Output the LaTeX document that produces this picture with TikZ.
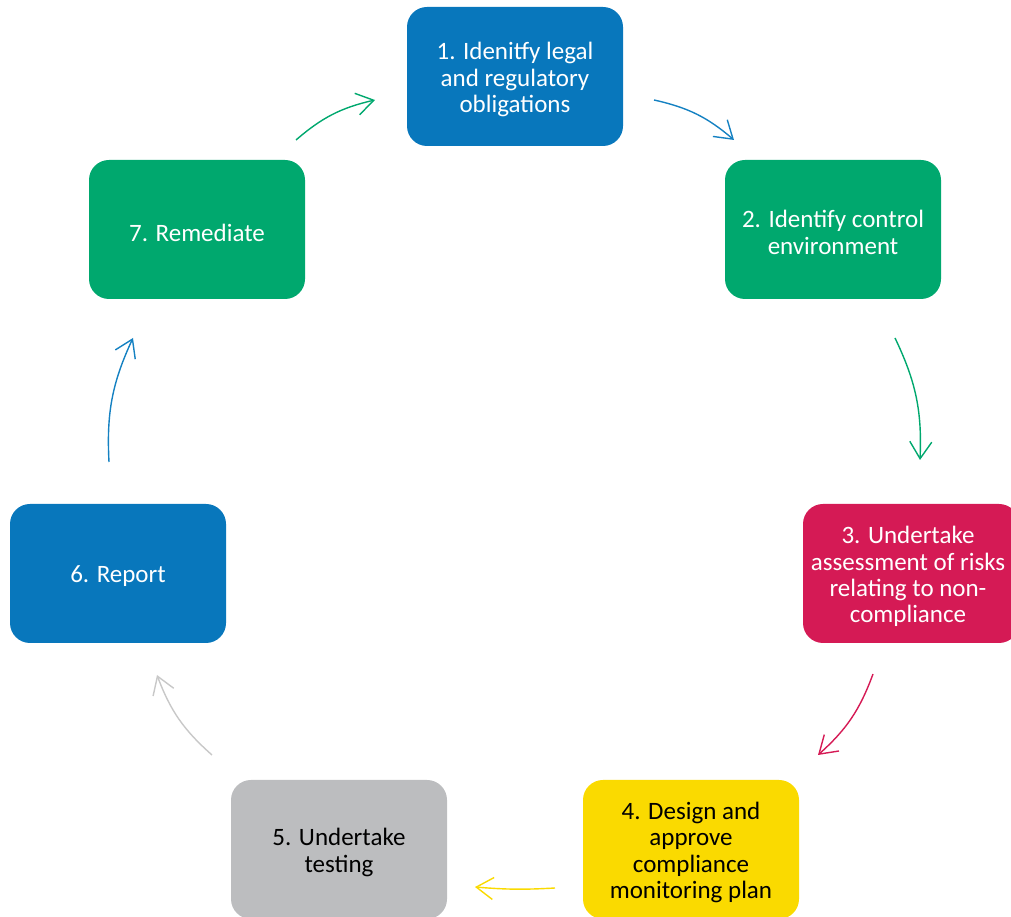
\documentclass[tikz,border=0pt]{standalone}
\usepackage{fontspec}
\setmainfont{Carlito}
\usetikzlibrary{arrows.meta}
\definecolor{cblue}{HTML}{0877BC}
\definecolor{cgreen}{HTML}{00A86E}
\definecolor{cred}{HTML}{D51A55}
\definecolor{cyellow}{HTML}{FADA00}
\definecolor{cgrey}{HTML}{BCBDBF}
\definecolor{agrey}{HTML}{C8C8C8}
\definecolor{ablue}{HTML}{1581C2}
\tikzset{
  stepbox/.style={rounded corners=20pt, minimum width=216pt, minimum height=139pt, inner sep=0pt},
  steptext/.style={align=center, inner sep=0pt, font=\fontsize{25}{26.3}\selectfont, text=white},
  cyc/.style={line width=1.4pt, -{Straight Barb[length=17pt,width=22pt,line width=1.4pt]}, bend left=14},
}
\begin{document}
\begin{tikzpicture}[x=1pt,y=1pt]
\useasboundingbox (0,0) rectangle (1011,917);
\clip (0,0) rectangle (1011,917);
\node[stepbox, fill=cblue] (s1) at (515,840.5) {};
\node[stepbox, fill=cgreen] (s2) at (833,687.5) {};
\node[stepbox, fill=cred] (s3) at (911,343.5) {};
\node[stepbox, fill=cyellow] (s4) at (691,67.5) {};
\node[stepbox, fill=cgrey] (s5) at (339,67.5) {};
\node[stepbox, fill=cblue] (s6) at (118,343.5) {};
\node[stepbox, fill=cgreen] (s7) at (197,687.5) {};
\node[steptext] (t1) at ([yshift=-3pt]s1.center) {1. Idenitfy legal\\and regulatory\\obligations};
\node[steptext] (t2) at ([yshift=-3pt]s2.center) {2. Identify control\\environment};
\node[steptext] (t3) at ([xshift=-3pt,yshift=-3pt]s3.center) {3. Undertake\\assessment of risks\\relating to non-\\compliance};
\node[steptext, text=black] (t4) at ([yshift=-3pt]s4.center) {4. Design and\\approve\\compliance\\monitoring plan};
\node[steptext, text=black] (t5) at ([yshift=-3pt]s5.center) {5. Undertake\\testing};
\node[steptext] (t6) at ([yshift=-3pt]s6.center) {6. Report};
\node[steptext] (t7) at ([yshift=-3pt]s7.center) {7. Remediate};
\coordinate (a1s) at (654,817); \coordinate (a1e) at (734,777);
\coordinate (a2s) at (895,579); \coordinate (a2e) at (920,457);
\coordinate (a3s) at (873,243); \coordinate (a3e) at (818,162);
\coordinate (a4s) at (555,29);  \coordinate (a4e) at (475,30);
\coordinate (a5s) at (212,162); \coordinate (a5e) at (157,242);
\coordinate (a6s) at (109,455); \coordinate (a6e) at (133,579);
\coordinate (a7s) at (296,777); \coordinate (a7e) at (375,817);
\draw[cyc, ablue] (a1s) to (a1e);
\draw[cyc, cgreen] (a2s) to (a2e);
\draw[cyc, cred] (a3s) to (a3e);
\draw[cyc, cyellow, bend left=4] (a4s) to (a4e);
\draw[cyc, agrey] (a5s) to (a5e);
\draw[cyc, ablue] (a6s) to (a6e);
\draw[cyc, cgreen] (a7s) to (a7e);
\end{tikzpicture}
\end{document}
